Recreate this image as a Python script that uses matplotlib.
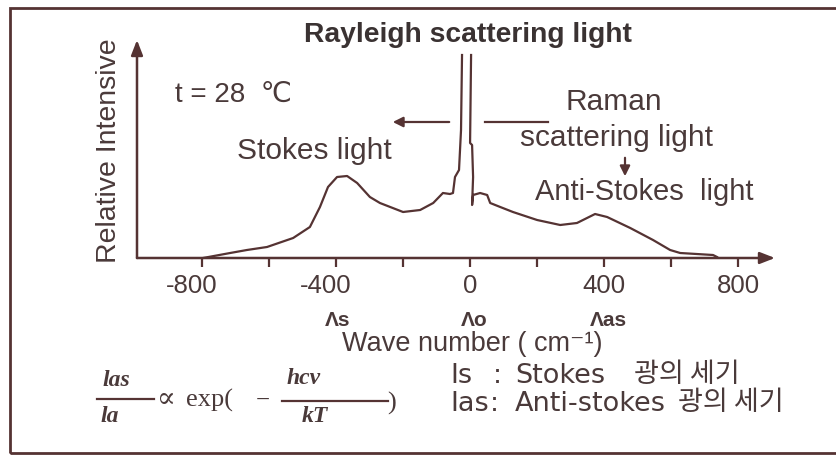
import matplotlib
matplotlib.use("Agg")
import matplotlib.pyplot as plt
from matplotlib.lines import Line2D
from matplotlib.patches import Rectangle, FancyArrowPatch
from matplotlib.transforms import ScaledTranslation

plt.rcParams["font.family"] = ["Liberation Sans", "DejaVu Sans", "Noto Sans CJK KR"]

# spectrum (wave number in cm^-1, relative intensity in arbitrary units)
stokes_x = [-797, -716, -666, -606, -528, -478, -448, -424, -397, -367, -337, -299, -269,
            -200, -149, -110, -81, -60, -51, -45, -33, -27, -24]
stokes_y = [0, 5, 8, 11, 20, 31, 51, 71, 81, 82, 75, 61, 55,
            46, 48, 55, 65, 64, 65, 81, 88, 128, 203]
anti_x = [3, 0, 6, 9, 6, 9, 30, 51, 60, 90, 128, 200, 269, 319, 349, 373, 409, 478,
          546, 597, 627, 725, 737]
anti_y = [203, 115, 113, 81, 53, 63, 65, 63, 55, 51, 46, 38, 33, 35, 40, 44, 41, 30,
          18, 8, 5, 3, 1]

tick_pos = [-800, -600, -400, -200, 0, 200, 400, 600, 800]
tick_lab = ["-800", "", "-400", "", "0", "", "400", "", "800"]
lambda_pos = [-400, 0, 400]
lambda_lab = ["Λs", "Λo", "Λas"]

W, H = 836, 457
LINE = "#553333"
TXT = "#4a3a3a"


def px(x, y):
    return x / W, 1 - y / H


fig = plt.figure(figsize=(W / 100, H / 100), dpi=100)
fig.patch.set_facecolor("white")

# outer frame (right side runs off the picture)
fig.patches.append(Rectangle(px(10, 453), (W + 20) / W, (453 - 8) / H,
                             transform=fig.transFigure, fill=False,
                             edgecolor=LINE, lw=2))

ax = fig.add_axes([137 / W, 1 - 258 / H, (775 - 137) / W, (258 - 40) / H])
ax.set_xlim(-994, 910)
ax.set_ylim(0, 218)
for s in ax.spines.values():
    s.set_visible(False)
ax.set_yticks([])
ax.set_xticks(tick_pos)
ax.set_xticklabels(tick_lab)
ax.tick_params(axis="x", direction="out", length=6.5, width=1.6, color=LINE,
               labelsize=18.5, labelcolor=TXT, pad=5)
ax.patch.set_alpha(0)
# negative labels sit with the digits over the tick, minus sign hanging left
for lab in ax.get_xticklabels():
    if lab.get_text().startswith("-"):
        lab.set_transform(lab.get_transform() + ScaledTranslation(-0.1, 0, fig.dpi_scale_trans))

# arrow axes
for tip in [(1, 0), (0, 1)]:
    ax.annotate("", xy=tip, xytext=(0, 0), xycoords="axes fraction",
                arrowprops=dict(arrowstyle="-|>,head_length=0.9,head_width=0.35",
                                color=LINE, lw=1.8, shrinkA=0, shrinkB=0))

ax.plot(stokes_x, stokes_y, color=LINE, lw=1.6, clip_on=False)
ax.plot(anti_x, anti_y, color=LINE, lw=1.6, clip_on=False)

for xp, lab in zip(lambda_pos, lambda_lab):
    ax.annotate(lab, xy=(xp, 0), xycoords=("data", "axes fraction"),
                xytext=(2 if lab == "Λs" else 4, -63), textcoords="offset pixels",
                ha="center", va="center", fontsize=15, fontweight="bold", color=TXT)

fig.text(*px(472, 344), "Wave number ( cm⁻¹)", ha="center", va="center",
         fontsize=19.5, color=TXT)
fig.text(*px(109, 151), "Relative Intensive", rotation=90, ha="center", va="center",
         fontsize=20.5, color=TXT)

fig.text(*px(468, 35), "Rayleigh scattering light", ha="center", va="center",
         fontsize=20.3, fontweight="bold", color="#3a3232")
fig.text(*px(175, 95), "t = 28  ℃", ha="left", va="center", fontsize=20, color=TXT)
fig.text(*px(314, 151), "Stokes light", ha="center", va="center", fontsize=21.5, color=TXT)
fig.text(*px(614, 102), "Raman", ha="center", va="center", fontsize=21.5, color=TXT)
fig.text(*px(617, 138), "scattering light", ha="center", va="center", fontsize=21.5, color=TXT)
fig.text(*px(644, 192), "Anti-Stokes  light", ha="center", va="center", fontsize=21, color=TXT)

# pointer lines
fig.add_artist(FancyArrowPatch(px(452, 122), px(390, 122), transform=fig.transFigure,
                               arrowstyle="-|>,head_length=6,head_width=3",
                               color=LINE, lw=1.6))
fig.add_artist(Line2D([485 / W, 548 / W], [1 - 122 / H] * 2, color=LINE, lw=1.6))
fig.add_artist(FancyArrowPatch(px(625, 155), px(625, 179), transform=fig.transFigure,
                               arrowstyle="-|>,head_length=6,head_width=3",
                               color=LINE, lw=1.6))

# formula
serif = ["Liberation Serif", "DejaVu Serif"]
fmt = dict(ha="center", va="center", family=serif, color=TXT)
fig.text(*px(116, 380), "las", fontsize=17, style="italic", fontweight="bold", **fmt)
fig.add_artist(Line2D([97 / W, 154 / W], [1 - 399 / H] * 2, color=LINE, lw=1.6))
fig.text(*px(110, 417), "la", fontsize=17, style="italic", fontweight="bold", **fmt)
fig.text(*px(166, 401), "∝", fontsize=20, **fmt)
fig.text(*px(210, 400), "exp(", fontsize=19, **fmt)
fig.text(*px(263, 401), "−", fontsize=18, **fmt)
fig.text(*px(304, 379), "hcv", fontsize=17, style="italic", fontweight="bold", **fmt)
fig.add_artist(Line2D([282 / W, 388 / W], [1 - 401 / H] * 2, color=LINE, lw=1.6))
fig.text(*px(315, 417), "kT", fontsize=17, style="italic", fontweight="bold", **fmt)
fig.text(*px(392, 403), ")", fontsize=19, **fmt)

# legend of symbols
sym = ["DejaVu Sans", "Noto Sans CJK KR"]
kor = ["Noto Sans CJK KR"]
fig.text(*px(450, 376), "Is", ha="left", va="center", fontsize=19.5, family=sym, color=TXT)
fig.text(*px(497, 376), ":", ha="center", va="center", fontsize=19.5, family=sym, color=TXT)
fig.text(*px(515, 376), "Stokes", ha="left", va="center", fontsize=19.5, family=sym, color=TXT)
fig.text(*px(634, 375), "광의 세기", ha="left", va="center", fontsize=19.5, family=kor, color=TXT)
fig.text(*px(450, 404), "Ias", ha="left", va="center", fontsize=19.5, family=sym, color=TXT)
fig.text(*px(494, 404), ":", ha="center", va="center", fontsize=19.5, family=sym, color=TXT)
fig.text(*px(515, 404), "Anti-stokes", ha="left", va="center", fontsize=19.5, family=sym, color=TXT)
fig.text(*px(678, 403), "광의 세기", ha="left", va="center", fontsize=19.5, family=kor, color=TXT)

fig.savefig("out.png", dpi=100)
